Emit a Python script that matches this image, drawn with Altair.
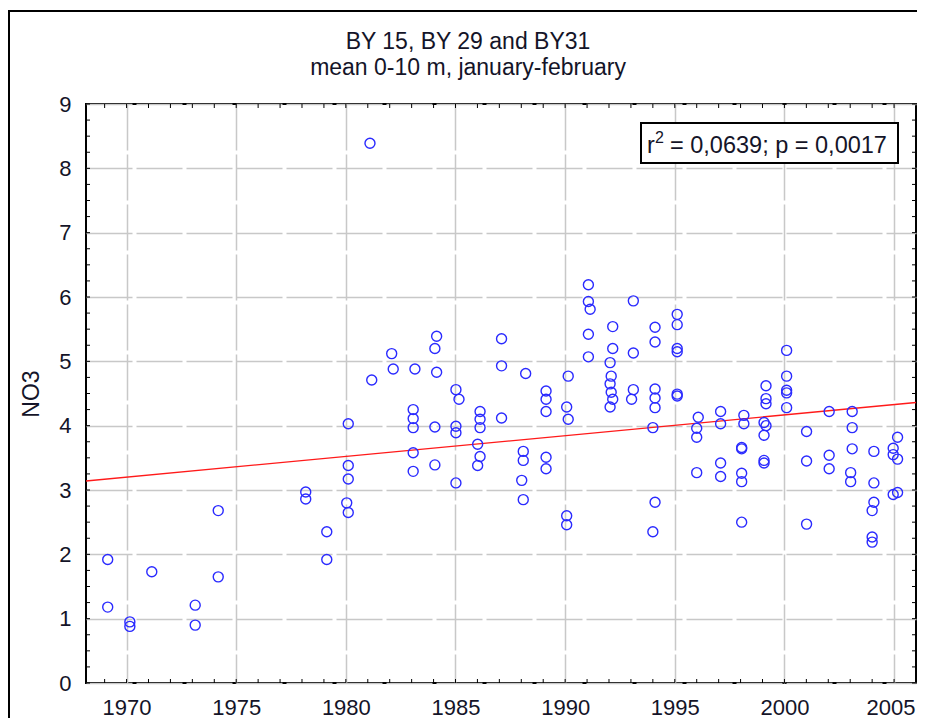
import altair as alt
import pandas as pd

# ---- data ----
point_year = [
    1969.14, 1969.14,
    1970.15, 1970.15,
    1971.15,
    1973.13, 1973.13,
    1974.18, 1974.18,
    1978.17, 1978.17,
    1979.13, 1979.13,
    1980.04, 1980.11, 1980.11, 1980.11, 1980.11,
    1981.10, 1981.18,
    1982.09, 1982.16,
    1983.15, 1983.07, 1983.07, 1983.07, 1983.07, 1983.07,
    1984.14, 1984.14, 1984.06, 1984.06, 1984.06,
    1985.02, 1985.02, 1985.02, 1985.02, 1985.16,
    1986.12, 1986.12, 1986.12, 1986.12, 1986.01, 1986.01,
    1987.10, 1987.10, 1987.10,
    1988.20, 1988.09, 1988.09, 1988.09, 1988.02,
    1989.13, 1989.13, 1989.13, 1989.13, 1989.13,
    1990.14, 1990.14, 1990.07, 1990.07, 1990.07,
    1991.06, 1991.06, 1991.06, 1991.06, 1991.14,
    1992.17, 1992.17, 1992.17, 1992.05, 1992.05, 1992.05, 1992.10, 1992.10,
    1993.11, 1993.11, 1993.11, 1993.03,
    1994.10, 1994.10, 1994.10, 1994.10, 1994.10, 1994.10, 1994.00, 1994.00,
    1995.11, 1995.11, 1995.11, 1995.11, 1995.11, 1995.11,
    1996.07, 1996.00, 1996.00, 1996.00,
    1997.09, 1997.09, 1997.09, 1997.09,
    1998.15, 1998.15, 1998.05, 1998.05, 1998.05, 1998.05, 1998.05,
    1999.16, 1999.16, 1999.16, 1999.16, 1999.07, 1999.07, 1999.07, 1999.07,
    2000.10, 2000.10, 2000.10, 2000.10, 2000.10,
    2001.01, 2001.01, 2001.01,
    2002.04, 2002.04, 2002.04,
    2003.09, 2003.09, 2003.09, 2003.02, 2003.02,
    2004.08, 2004.08, 2004.08, 2004.00, 2004.00, 2004.00,
    2005.16, 2005.16, 2005.16, 2004.96, 2004.96, 2004.96,
]
point_no3 = [
    1.92, 1.18,
    0.95, 0.88,
    1.73,
    1.21, 0.90,
    2.68, 1.65,
    2.97, 2.86,
    2.35, 1.92,
    2.80, 2.65, 3.17, 3.38, 4.03,
    8.39, 4.71,
    5.12, 4.88,
    4.88, 4.25, 4.11, 3.97, 3.58, 3.29,
    5.39, 4.83, 5.20, 3.98, 3.39,
    4.56, 3.99, 3.89, 3.11, 4.41,
    4.22, 4.10, 3.97, 3.52, 3.71, 3.38,
    5.35, 4.93, 4.12,
    4.81, 3.60, 3.46, 2.85, 3.15,
    4.54, 4.41, 4.22, 3.51, 3.33,
    4.77, 4.10, 4.29, 2.60, 2.46,
    6.19, 5.93, 5.42, 5.07, 5.81,
    5.54, 5.20, 4.41, 4.98, 4.65, 4.29, 4.77, 4.52,
    5.94, 5.13, 4.56, 4.41,
    5.53, 5.30, 4.57, 4.43, 4.28, 2.81, 3.97, 2.35,
    5.73, 5.57, 5.20, 5.15, 4.46, 4.49,
    4.13, 3.96, 3.82, 3.27,
    4.22, 4.03, 3.42, 3.21,
    4.16, 4.03, 3.66, 3.64, 3.26, 3.13, 2.50,
    4.62, 4.42, 4.34, 4.00, 4.05, 3.85, 3.46, 3.42,
    5.17, 4.77, 4.55, 4.51, 4.28,
    3.91, 3.45, 2.47,
    4.22, 3.54, 3.33,
    4.22, 3.97, 3.64, 3.27, 3.13,
    3.60, 3.11, 2.81, 2.68, 2.27, 2.19,
    3.82, 3.48, 2.96, 3.65, 3.55, 2.93,
]

# fitted line, end points
line_year = [1968.15, 2006.0]
line_no3 = [3.14, 4.36]

# axis ticks / labels
x_major = [1970, 1975, 1980, 1985, 1990, 1995, 2000, 2005]
y_major = [0, 1, 2, 3, 4, 5, 6, 7, 8, 9]
x_minor = list(range(1969, 2006))
y_minor = [i / 4 for i in range(0, 37)]

title_lines = ["BY 15, BY 29 and BY31\nmean 0-10 m, january-february"]
stat_r = ["r"]
stat_sup = ["2"]
stat_rest = ["= 0,0639; p = 0,0017"]

# ---- chart ----
W, H = 830, 579
FONT = "Liberation Sans"
TXT = "#141428"

pts_df = pd.DataFrame({"year": point_year, "no3": point_no3})
line_df = pd.DataFrame({"year": line_year, "no3": line_no3})
xt_df = pd.DataFrame({"year": x_minor})
yt_df = pd.DataFrame({"no3": y_minor})
title_df = pd.DataFrame({"label": title_lines})
r_df = pd.DataFrame({"label": stat_r})
sup_df = pd.DataFrame({"label": stat_sup})
rest_df = pd.DataFrame({"label": stat_rest})

x_scale = alt.Scale(domain=[1968.15, 2006], nice=False, zero=False)
y_scale = alt.Scale(domain=[0, 9], nice=False, zero=False)

x_enc = alt.X("year:Q", scale=x_scale,
              axis=alt.Axis(values=x_major, format="d", title=None,
                            labelPadding=14, labelFlush=30,
                            labelFlushOffset=21))
y_enc = alt.Y("no3:Q", scale=y_scale,
              axis=alt.Axis(values=y_major, format="d", title="NO3",
                            labelPadding=15, titleX=-55, titleY=H / 2,
                            titleAngle=270, titleAlign="center",
                            titleBaseline="middle", labelFlush=False))

frame = alt.Chart(r_df).mark_rect(
    fillOpacity=0, stroke="black", strokeWidth=2, clip=False
).encode(x=alt.value(-77), x2=alt.value(W + 200),
         y=alt.value(-93), y2=alt.value(H + 200))

title = alt.Chart(title_df).mark_text(
    font=FONT, fontSize=23, color=TXT, align="center", baseline="alphabetic",
    lineBreak="\n", lineHeight=26
).encode(text="label:N", x=alt.value(382), y=alt.value(-55))

line = alt.Chart(line_df).mark_line(color="#ff1a1a", strokeWidth=1.4).encode(
    x=x_enc, y=y_enc)

points = alt.Chart(pts_df).mark_point(
    shape="circle", filled=False, size=100, strokeWidth=1.4,
    color="#2a2aff", opacity=1
).encode(x="year:Q", y="no3:Q")

tick_b = alt.Chart(xt_df).mark_rule(color="black", strokeWidth=1).encode(
    x="year:Q", y=alt.value(H), y2=alt.value(H - 4))
tick_t = alt.Chart(xt_df).mark_rule(color="black", strokeWidth=1).encode(
    x="year:Q", y=alt.value(0), y2=alt.value(4))
tick_l = alt.Chart(yt_df).mark_rule(color="black", strokeWidth=1).encode(
    y="no3:Q", x=alt.value(0), x2=alt.value(4))
tick_r = alt.Chart(yt_df).mark_rule(color="black", strokeWidth=1).encode(
    y="no3:Q", x=alt.value(W), x2=alt.value(W - 4))

box = alt.Chart(r_df).mark_rect(
    fill="white", stroke="black", strokeWidth=2
).encode(x=alt.value(555), x2=alt.value(812), y=alt.value(19), y2=alt.value(59))
note_r = alt.Chart(r_df).mark_text(
    font=FONT, fontSize=23.5, color=TXT, align="left", baseline="alphabetic"
).encode(text="label:N", x=alt.value(561), y=alt.value(49))
note_sup = alt.Chart(sup_df).mark_text(
    font=FONT, fontSize=16, color=TXT, align="left", baseline="alphabetic"
).encode(text="label:N", x=alt.value(569), y=alt.value(39))
note_rest = alt.Chart(rest_df).mark_text(
    font=FONT, fontSize=23.5, color=TXT, align="left", baseline="alphabetic"
).encode(text="label:N", x=alt.value(584), y=alt.value(49))

chart = alt.layer(
    frame, title, line, points, tick_b, tick_t, tick_l, tick_r,
    box, note_r, note_sup, note_rest
).properties(
    width=W, height=H,
    padding={"left": 78, "top": 96, "right": 1, "bottom": 35},
    autosize=alt.AutoSizeParams(type="none"),
).configure_view(
    stroke="black", strokeWidth=2
).configure_axis(
    labelFont=FONT, labelFontSize=22, labelColor=TXT,
    titleFont=FONT, titleFontSize=23, titleFontWeight="normal", titleColor=TXT,
    grid=True, gridColor="#c8c8c8", gridWidth=1.5, gridDash=[46, 4],
    domain=False, ticks=False, tickSize=0
)

chart.save("out.html", embed_options={"renderer": "svg", "actions": False})
